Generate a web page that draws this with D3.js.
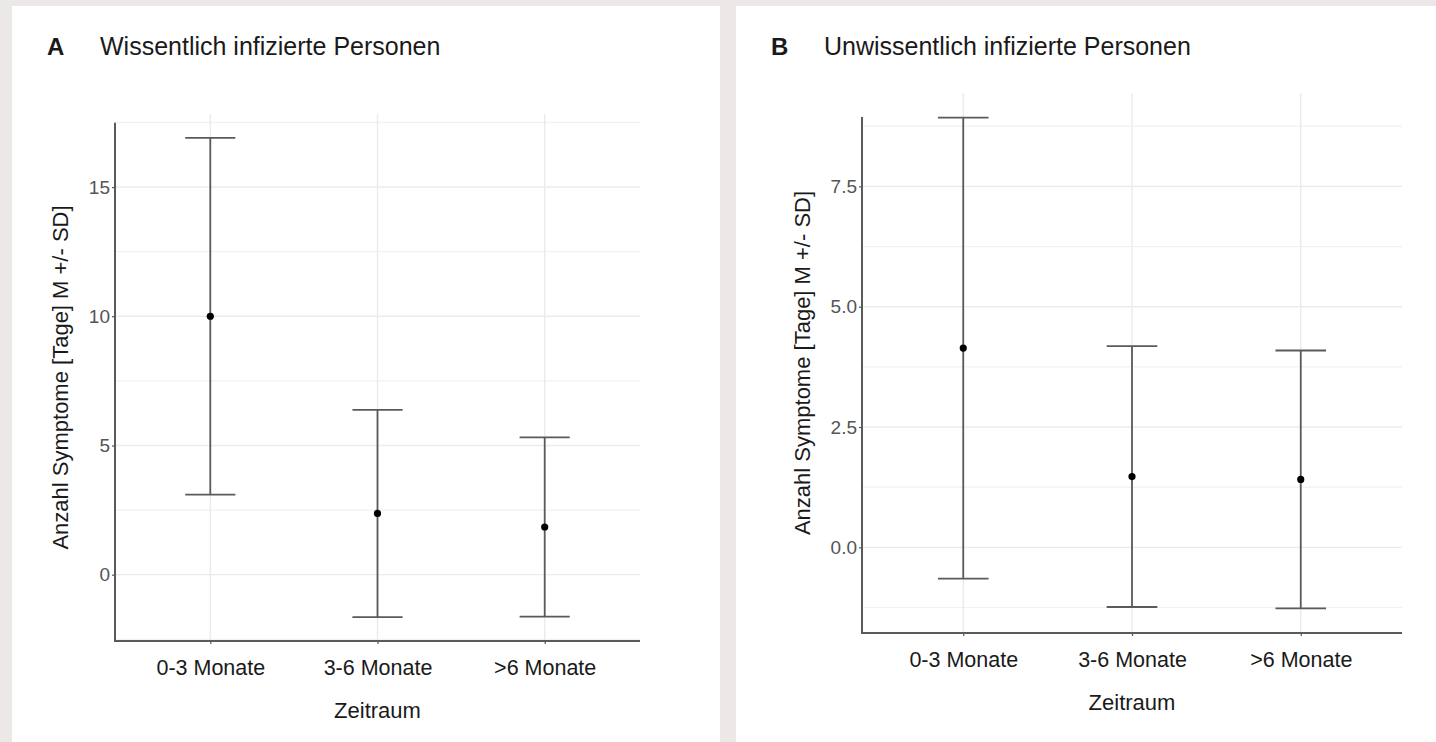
<!DOCTYPE html>
<html>
<head>
<meta charset="utf-8">
<script src="https://cdn.jsdelivr.net/npm/d3@7"></script>
<style>
  body { margin: 0; background: #ece8e7; }
  svg { display: block; font-family: "Liberation Sans", Arial, sans-serif; }
</style>
</head>
<body>
<div id="chart"></div>
<script>
// values (mean and SD per period)
const categories = ["0-3 Monate", "3-6 Monate", ">6 Monate"];
const meanKnown = [10.0, 2.37, 1.845];
const sdKnown = [6.9, 4.01, 3.465];
const meanUnknown = [4.14, 1.47, 1.41];
const sdUnknown = [4.79, 2.71, 2.68];
const yTicksKnown = [0, 5, 10, 15];
const yTicksUnknown = [0, 2.5, 5, 7.5];

const width = 1436;
const height = 742;

const svg = d3
  .select("#chart")
  .append("svg")
  .attr("width", width)
  .attr("height", height);

const panels = [
  {
    letter: "A",
    title: "Wissentlich infizierte Personen",
    means: meanKnown,
    sds: sdKnown,
    ticks: yTicksKnown,
    fmt: d3.format("d"),
    box: { x: 12, y: 6, w: 708, h: 736 },
    plot: { left: 115, right: 640, top: 114, bottom: 641 },
    axisTop: 122.7,
    pad: 0.57
  },
  {
    letter: "B",
    title: "Unwissentlich infizierte Personen",
    means: meanUnknown,
    sds: sdUnknown,
    ticks: yTicksUnknown,
    fmt: d3.format(".1f"),
    box: { x: 736, y: 6, w: 700, h: 736 },
    plot: { left: 862, right: 1402, top: 93, bottom: 633 },
    axisTop: 117,
    pad: 0.6
  }
];

panels.forEach(drawPanel);

function drawPanel(p) {
  const g = svg.append("g");

  g.append("rect")
    .attr("x", p.box.x)
    .attr("y", p.box.y)
    .attr("width", p.box.w)
    .attr("height", p.box.h)
    .attr("fill", "#ffffff");

  // panel heading
  g.append("text")
    .attr("x", p.box.x + 35)
    .attr("y", 55)
    .attr("font-size", 24)
    .attr("font-weight", "bold")
    .attr("fill", "#1a1a1a")
    .text(p.letter);
  g.append("text")
    .attr("x", p.box.x + 88)
    .attr("y", 55)
    .attr("font-size", 25)
    .attr("fill", "#1a1a1a")
    .text(p.title);

  const rows = categories.map(function(c, i) {
    return {
      cat: c,
      mean: p.means[i],
      lo: p.means[i] - p.sds[i],
      hi: p.means[i] + p.sds[i]
    };
  });

  // ggplot-like 5% expansion
  const lo = d3.min(rows, d => d.lo);
  const hi = d3.max(rows, d => d.hi);
  const ex = (hi - lo) * 0.05;

  const y = d3
    .scaleLinear()
    .domain([lo - ex, hi + ex])
    .range([p.plot.bottom, p.plot.top]);

  const x = d3
    .scalePoint()
    .domain(categories)
    .range([p.plot.left, p.plot.right])
    .padding(p.pad);

  // grid
  const step = p.ticks[1] - p.ticks[0];
  const minor = p.ticks
    .map(t => t - step / 2)
    .concat([p.ticks[p.ticks.length - 1] + step / 2, p.ticks[p.ticks.length - 1] + step * 1.5])
    .filter(v => v >= y.domain()[0] && v <= y.domain()[1]);

  const grid = g.append("g").attr("class", "grid");
  grid.selectAll("line.minor")
    .data(minor)
    .enter()
    .append("line")
    .attr("class", "minor")
    .attr("x1", p.plot.left)
    .attr("x2", p.plot.right)
    .attr("y1", d => y(d))
    .attr("y2", d => y(d))
    .attr("stroke", "#f1f1f1")
    .attr("stroke-width", 1.2);
  grid.selectAll("line.major")
    .data(p.ticks)
    .enter()
    .append("line")
    .attr("class", "major")
    .attr("x1", p.plot.left)
    .attr("x2", p.plot.right)
    .attr("y1", d => y(d))
    .attr("y2", d => y(d))
    .attr("stroke", "#ebebeb")
    .attr("stroke-width", 1.4);
  grid.selectAll("line.vert")
    .data(categories)
    .enter()
    .append("line")
    .attr("class", "vert")
    .attr("x1", d => x(d))
    .attr("x2", d => x(d))
    .attr("y1", p.plot.top)
    .attr("y2", p.plot.bottom)
    .attr("stroke", "#ebebeb")
    .attr("stroke-width", 1.4);

  // axes
  const yAxis = g
    .append("g")
    .attr("transform", "translate(" + p.plot.left + ",0)")
    .call(
      d3.axisLeft(y)
        .tickValues(p.ticks)
        .tickSize(3)
        .tickPadding(2)
        .tickFormat(p.fmt)
    );
  yAxis.select(".domain").remove();
  yAxis.selectAll("line").attr("stroke", "#555").attr("stroke-width", 1.2);
  yAxis.selectAll("text")
    .attr("font-size", 19)
    .attr("font-family", null)
    .attr("fill", "#555");

  const xAxis = g
    .append("g")
    .attr("transform", "translate(0," + p.plot.bottom + ")")
    .call(d3.axisBottom(x).tickSize(3).tickPadding(16));
  xAxis.select(".domain").remove();
  xAxis.selectAll("line").attr("stroke", "#555").attr("stroke-width", 1.2);
  xAxis.selectAll("text")
    .attr("font-size", 21.5)
    .attr("font-family", null)
    .attr("fill", "#1a1a1a");

  // axis lines
  g.append("path")
    .attr(
      "d",
      "M" + p.plot.left + "," + p.axisTop +
      "V" + p.plot.bottom +
      "H" + p.plot.right
    )
    .attr("fill", "none")
    .attr("stroke", "#5a5a5a")
    .attr("stroke-width", 2);

  // error bars
  const capHalf = x.step() * 0.15;
  const bars = g.append("g").attr("class", "bars");
  bars.selectAll("line.stem")
    .data(rows)
    .enter()
    .append("line")
    .attr("class", "stem")
    .attr("x1", d => x(d.cat))
    .attr("x2", d => x(d.cat))
    .attr("y1", d => y(d.lo))
    .attr("y2", d => y(d.hi))
    .attr("stroke", "#5a5a5a")
    .attr("stroke-width", 1.8);
  ["lo", "hi"].forEach(function(k) {
    bars.selectAll("line.cap-" + k)
      .data(rows)
      .enter()
      .append("line")
      .attr("class", "cap-" + k)
      .attr("x1", d => x(d.cat) - capHalf)
      .attr("x2", d => x(d.cat) + capHalf)
      .attr("y1", d => y(d[k]))
      .attr("y2", d => y(d[k]))
      .attr("stroke", "#5a5a5a")
      .attr("stroke-width", 1.8);
  });
  bars.selectAll("circle")
    .data(rows)
    .enter()
    .append("circle")
    .attr("cx", d => x(d.cat))
    .attr("cy", d => y(d.mean))
    .attr("r", 3.6)
    .attr("fill", "#000");

  // axis titles
  const labelLeft = yAxis.node().getBBox().x;
  g.append("text")
    .attr(
      "transform",
      "translate(" + (p.plot.left + labelLeft - 20.5) + "," +
        (p.plot.top + p.plot.bottom) / 2 + ") rotate(-90)"
    )
    .attr("text-anchor", "middle")
    .attr("font-size", 22)
    .attr("fill", "#1a1a1a")
    .text("Anzahl Symptome [Tage] M +/- SD]");

  g.append("text")
    .attr("x", (p.plot.left + p.plot.right) / 2)
    .attr("y", p.plot.bottom + 77)
    .attr("text-anchor", "middle")
    .attr("font-size", 22)
    .attr("fill", "#1a1a1a")
    .text("Zeitraum");
}
</script>
</body>
</html>
